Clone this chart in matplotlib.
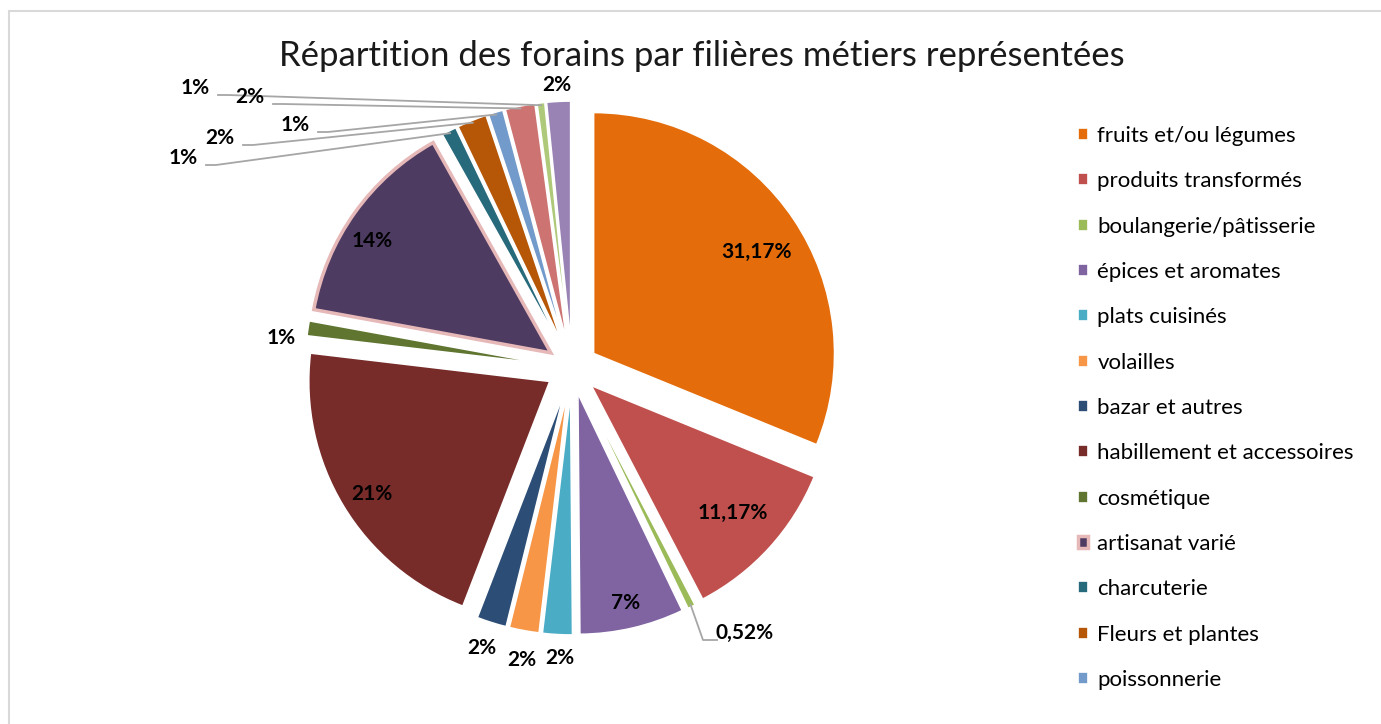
import numpy as np
import matplotlib
matplotlib.use('Agg')
import matplotlib.pyplot as plt
from matplotlib.patches import Rectangle

plt.rcParams['font.family'] = ['Lato', 'DejaVu Sans']

# slices, clockwise from 12 o'clock
names = ['fruits et/ou légumes', 'produits transformés', 'boulangerie/pâtisserie',
         'épices et aromates', 'plats cuisinés', 'volailles', 'bazar et autres',
         'habillement et accessoires', 'cosmétique', 'artisanat varié',
         'charcuterie', 'Fleurs et plantes', 'poissonnerie', '', '', '']
values = [31.17, 11.17, 0.52, 7, 2, 2, 2, 21, 1, 14, 1, 2, 1, 2, 0.52, 1.6]
labels = ['31,17%', '11,17%', '0,52%', '7%', '2%', '2%', '2%', '21%', '1%', '14%',
          '1%', '2%', '1%', '2%', '1%', '2%']
colors = ['#E46C0A', '#C0504D', '#9BBB59', '#8064A2', '#4BACC6', '#F79646',
          '#2C4D75', '#772C2A', '#5F7530', '#4D3B62', '#276A7C', '#B65708',
          '#729ACA', '#CD7371', '#AFC97A', '#9983B5']
n_legend = 13

# label positions in pixels (x, y from top)
label_pos = [(757, 252), (733, 513), (745, 633), (626, 603), (560, 658), (522, 660),
             (482, 648), (372, 494), (281, 338), (372, 241), (183, 158), (220, 138),
             (295, 125), (250, 97), (195, 88), (557, 85)]
leader = [2, 10, 11, 12, 13, 14]

W, H = 1381, 724
fig = plt.figure(figsize=(W / 100, H / 100), dpi=100)
ax = fig.add_axes([0, 0, 1, 1])

# chart frame
fig.patches.append(Rectangle((8.5 / W, -0.05), 1.1, (H - 10.5) / H + 0.05,
                             transform=fig.transFigure, fill=False,
                             edgecolor='#D9D9D9', linewidth=1.5))

cx, cy, r = 572, H - 368, 241
wedges, _ = ax.pie(values, colors=colors, startangle=90, counterclock=False,
                   radius=r, center=(cx, cy), explode=[26] * len(values),
                   wedgeprops=dict(edgecolor='white', linewidth=1.2), frame=True)
ax.set_xlim(0, W)
ax.set_ylim(0, H)
ax.set_aspect('equal')
ax.axis('off')
wedges[9].set_edgecolor('#E6B9B8')
wedges[9].set_linewidth(2.5)

for i, (lab, (lx, ly)) in enumerate(zip(labels, label_pos)):
    ax.text(lx, H - ly, lab, ha='center', va='center', fontsize=15,
            fontweight='bold', color='black')

# leader lines
for i in leader:
    w = wedges[i]
    mid = np.deg2rad((w.theta1 + w.theta2) / 2)
    ex = w.center[0] + 0.99 * w.r * np.cos(mid)
    ey = w.center[1] + 0.99 * w.r * np.sin(mid)
    lx, ly = label_pos[i]
    if i == 2:
        sx, sy = lx - 28, H - ly - 7
        kx = sx - 14
    else:
        sx, sy = lx + 23, H - ly - 7
        kx = sx + 10
    ax.plot([sx, kx, ex], [sy, sy, ey], color='#A6A6A6', linewidth=1.3)

fig.text(702 / W, 1 - 56 / H, 'Répartition des forains par filières métiers représentées',
         ha='center', va='center', fontsize=25, color='#1a1a1a')

ax.legend(wedges[:n_legend], names[:n_legend], loc='upper left',
          bbox_to_anchor=(1078 / W, 1 - 126 / H), bbox_transform=fig.transFigure,
          frameon=False, fontsize=16, labelspacing=1.14, handlelength=0.45,
          handleheight=0.45, handletextpad=0.42, borderpad=0, borderaxespad=0)

fig.savefig('out.png', dpi=100, facecolor='white')
